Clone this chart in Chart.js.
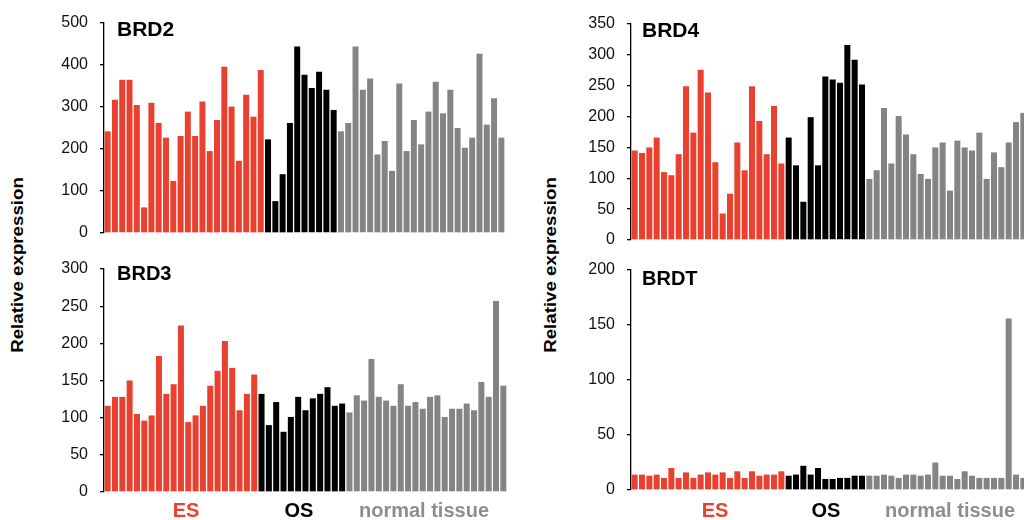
<!DOCTYPE html>
<html>
<head>
<meta charset="utf-8">
<script src="https://cdn.jsdelivr.net/npm/chart.js@4"></script>
<style>
  html, body { margin: 0; padding: 0; background: #fff; }
  body { width: 1024px; height: 520px; position: relative; overflow: hidden; font-family: 'Liberation Sans', Arial, sans-serif; }
  canvas { position: absolute; }
  .ttl { position: absolute; font-weight: bold; font-size: 21px; line-height: 21px; color: #000; }
  .grp { position: absolute; font-weight: bold; font-size: 20px; line-height: 20px; transform: translateX(-50%); white-space: nowrap; }
  .ylab { position: absolute; font-weight: bold; font-size: 17px; white-space: nowrap; transform: translate(-50%, -50%) rotate(-90deg) scaleX(1.1); }
</style>
</head>
<body>
<canvas id="brd2" width="461" height="258" style="left:44px;top:-1px"></canvas>
<canvas id="brd3" width="463" height="271" style="left:44px;top:245px"></canvas>
<canvas id="brd4" width="456" height="264" style="left:571px;top:0px"></canvas>
<canvas id="brdt" width="456" height="268" style="left:571px;top:246px"></canvas>

<div class="ttl" style="left:117px;top:18px">BRD2</div>
<div class="ttl" style="left:117px;top:263px;font-size:20px">BRD3</div>
<div class="ttl" style="left:642px;top:19px">BRD4</div>
<div class="ttl" style="left:642px;top:268px;font-size:20px">BRDT</div>

<div class="ylab" style="left:18px;top:265px">Relative expression</div>
<div class="ylab" style="left:551px;top:265px">Relative expression</div>

<div class="grp" style="left:186px;top:500px;color:#e9402f">ES</div>
<div class="grp" style="left:299px;top:500px;color:#000">OS</div>
<div class="grp" style="left:424px;top:500px;color:#8e8e8e">normal tissue</div>
<div class="grp" style="left:715px;top:500px;color:#e9402f">ES</div>
<div class="grp" style="left:826px;top:500px;color:#000">OS</div>
<div class="grp" style="left:885px;top:500px;color:#8e8e8e;transform:none">normal tissue</div>

<script>
// gruppe-farben
const esColor = '#e9402f';
const osColor = '#000000';
const ntColor = '#848484';

// BRD2 (0-500)
const brd2ES = [242, 317, 365, 365, 305, 61, 310, 262, 227, 124, 231, 289, 231, 313, 195, 269, 396, 301, 172, 329, 277, 388];
const brd2OS = [223, 76, 140, 262, 444, 377, 345, 384, 341, 293];
const brd2NT = [242, 262, 444, 341, 368, 187, 219, 148, 356, 195, 269, 211, 289, 360, 285, 341, 250, 203, 227, 427, 258, 321, 227];
const brd2Ticks = [0, 100, 200, 300, 400, 500];

// BRD3 (0-300)
const brd3ES = [116, 128, 128, 150, 105, 96, 103, 183, 132, 145, 224, 94, 103, 116, 143, 163, 203, 167, 110, 132, 158];
const brd3OS = [132, 90, 121, 81, 101, 128, 110, 126, 132, 141, 116, 119];
const brd3NT = [107, 130, 123, 179, 128, 123, 116, 145, 116, 121, 112, 128, 130, 101, 112, 112, 119, 110, 148, 128, 257, 143];
const brd3Ticks = [0, 50, 100, 150, 200, 250, 300];

// BRD4 (0-350)
const brd4ES = [145, 141, 150, 166, 110, 105, 139, 249, 174, 276, 239, 126, 43, 75, 158, 113, 249, 193, 139, 217, 124];
const brd4OS = [166, 121, 62, 199, 121, 265, 260, 255, 316, 292, 252];
const brd4NT = [99, 113, 214, 124, 201, 171, 139, 107, 99, 150, 158, 80, 161, 150, 145, 174, 99, 142, 118, 158, 191, 206];
const brd4Ticks = [0, 50, 100, 150, 200, 250, 300, 350];

// BRDT (0-200)
const brdtES = [14, 14, 13, 14, 11, 20, 11, 16, 11, 14, 16, 14, 16, 11, 17, 11, 17, 13, 14, 14, 17];
const brdtOS = [13, 14, 22, 14, 20, 10, 10, 11, 11, 13, 13];
const brdtNT = [13, 13, 14, 13, 11, 14, 14, 13, 14, 25, 13, 13, 10, 17, 13, 11, 11, 11, 11, 156, 14, 11];
const brdtTicks = [0, 50, 100, 150, 200];

function makePanel(id, es, os, nt, ticks) {
    const values = es.concat(os, nt);
    const colors = es.map(() => esColor).concat(os.map(() => osColor), nt.map(() => ntColor));
    const labels = es.map((v, i) => 'ES ' + (i + 1))
        .concat(os.map((v, i) => 'OS ' + (i + 1)), nt.map((v, i) => 'NT ' + (i + 1)));
    const step = ticks[1] - ticks[0];

    new Chart(document.getElementById(id).getContext('2d'), {
        type: 'bar',
        data: {
            labels: labels,
            datasets: [{
                data: values,
                backgroundColor: colors,
                borderWidth: 0,
                barPercentage: 0.82,
                categoryPercentage: 1
            }]
        },
        options: {
            responsive: false,
            animation: false,
            devicePixelRatio: 1,
            // grosser als halbe label-hoehe + tick padding, damit die plotflaeche fix bleibt
            layout: { padding: { top: 24, bottom: 24, left: 0, right: 0 } },
            plugins: { legend: { display: false }, tooltip: { enabled: false } },
            scales: {
                x: { display: false },
                y: {
                    min: ticks[0],
                    max: ticks[ticks.length - 1],
                    afterFit: function(scale) { scale.width = 60; },
                    border: { display: true, color: '#000', width: 1.3 },
                    grid: { drawOnChartArea: false, drawTicks: true, tickLength: 4, color: '#000', lineWidth: 1.3 },
                    ticks: {
                        stepSize: step,
                        padding: 12,
                        color: '#111',
                        font: { family: "'Liberation Sans', Arial, sans-serif", size: 16 }
                    }
                }
            }
        }
    });
}

makePanel('brd2', brd2ES, brd2OS, brd2NT, brd2Ticks);
makePanel('brd3', brd3ES, brd3OS, brd3NT, brd3Ticks);
makePanel('brd4', brd4ES, brd4OS, brd4NT, brd4Ticks);
makePanel('brdt', brdtES, brdtOS, brdtNT, brdtTicks);
</script>
</body>
</html>
